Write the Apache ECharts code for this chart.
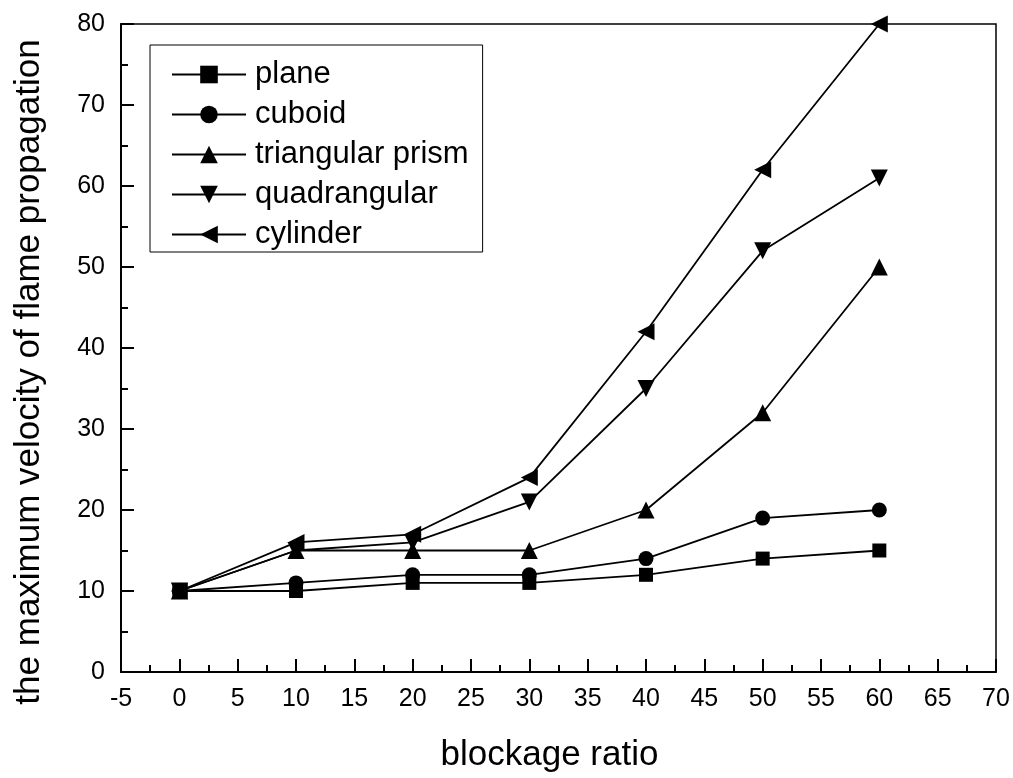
<!DOCTYPE html>
<html><head><meta charset="utf-8">
<script src="https://cdn.jsdelivr.net/npm/echarts@6/dist/echarts.min.js"></script>
<style>html,body{margin:0;padding:0;background:#fff}#c{width:1013px;height:778px}</style>
</head><body><div id="c"></div>
<script>
const xValues = [0, 10, 20, 30, 40, 50, 60];
const plane = [10, 10, 11, 11, 12, 14, 15];
const cuboid = [10, 11, 12, 12, 14, 19, 20];
const triangularPrism = [10, 15, 15, 15, 20, 32, 50];
const quadrangular = [10, 15, 16, 21, 35, 52, 61];
const cylinder = [10, 16, 17, 24, 42, 62, 80];
const seriesNames = ['plane', 'cuboid', 'triangular prism', 'quadrangular', 'cylinder'];

const seriesData = [plane, cuboid, triangularPrism, quadrangular, cylinder];
const symbols = ['rect', 'circle', 'triangle', 'triangle', 'triangle'];
const rotates = [0, 0, 0, 180, 90];
const sizes = [14, 15, 17, 17, 17];
const font = 'Liberation Sans, Arial, sans-serif';

const chart = echarts.init(document.getElementById('c'));
chart.setOption({
  animation: false,
  backgroundColor: '#fff',
  grid: {left: 121, right: 17, top: 24, bottom: 105, show: true, borderColor: '#000', borderWidth: 1.5},
  legend: {
    left: 150, top: 45, orient: 'vertical',
    data: seriesNames,
    itemWidth: 74, itemHeight: 22, itemGap: 9,
    borderColor: '#000', borderWidth: 1,
    padding: [14, 14, 2, 21],
    textStyle: {fontFamily: font, fontSize: 31, color: '#000', padding: [0, 0, 0, 4]}
  },
  xAxis: {
    type: 'value', min: -5, max: 70, interval: 5,
    name: 'blockage ratio', nameLocation: 'middle', nameGap: 66,
    nameTextStyle: {fontFamily: font, fontSize: 35, color: '#000', padding: [0, 18, 0, 0]},
    axisLine: {onZero: false, lineStyle: {color: '#000', width: 2}},
    axisTick: {inside: true, length: 13, lineStyle: {color: '#000', width: 2}},
    minorTick: {show: true, splitNumber: 2, length: 7, lineStyle: {color: '#000', width: 2}},
    axisLabel: {fontFamily: font, fontSize: 25, color: '#000', margin: 15},
    splitLine: {show: false}
  },
  yAxis: {
    type: 'value', min: 0, max: 80, interval: 10,
    name: 'the maximum velocity of flame propagation', nameLocation: 'middle', nameGap: 74,
    nameTextStyle: {fontFamily: font, fontSize: 35, color: '#000', padding: [0, 48, 0, 0]},
    axisLine: {onZero: false, lineStyle: {color: '#000', width: 2}},
    axisTick: {inside: true, length: 13, lineStyle: {color: '#000', width: 2}},
    minorTick: {show: true, splitNumber: 2, length: 7, lineStyle: {color: '#000', width: 2}},
    axisLabel: {fontFamily: font, fontSize: 25, color: '#000', margin: 16},
    splitLine: {show: false}
  },
  series: seriesNames.map((n, i) => ({
    name: n, type: 'line',
    data: xValues.map((x, j) => [x, seriesData[i][j]]),
    symbol: symbols[i], symbolRotate: rotates[i], symbolSize: sizes[i],
    showAllSymbol: true,
    lineStyle: {color: '#000', width: 1.8},
    itemStyle: {color: '#000'}
  }))
});
</script></body></html>
